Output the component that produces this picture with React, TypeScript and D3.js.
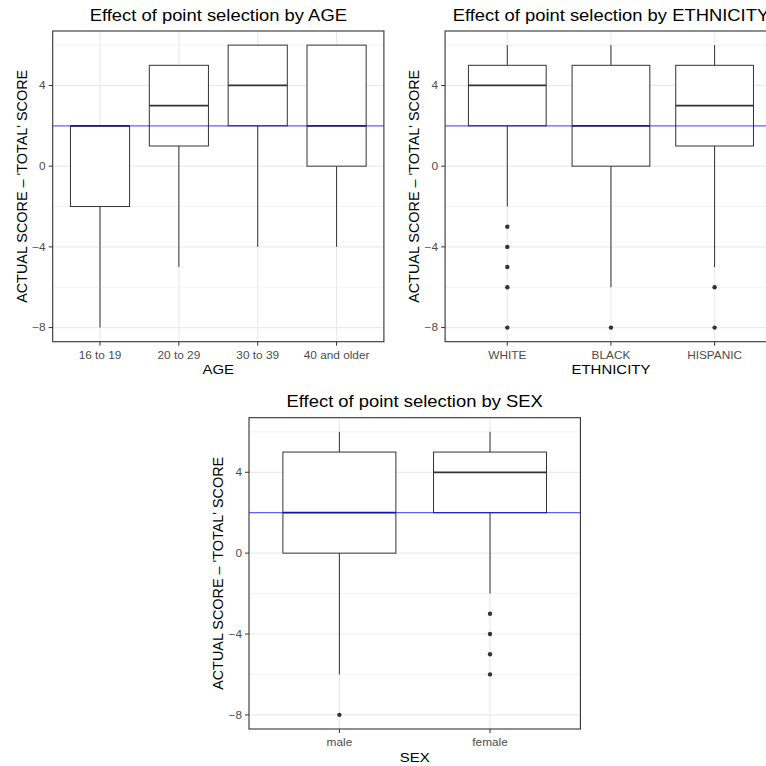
import React from "react";
import * as d3 from "d3";

// ---------- data ----------
const ageCats = ["16 to 19", "20 to 29", "30 to 39", "40 and older"];
const ageLower = [-8, -5, -4, -4];
const ageQ1 = [-2, 1, 2, 0];
const ageMedian = [2, 3, 4, 2];
const ageQ3 = [2, 5, 6, 6];
const ageUpper = [2, 5, 6, 6];
const ageOutliers: number[][] = [[], [], [], []];

const ethCats = ["WHITE", "BLACK", "HISPANIC"];
const ethLower = [-2, -6, -5];
const ethQ1 = [2, 0, 1];
const ethMedian = [4, 2, 3];
const ethQ3 = [5, 5, 5];
const ethUpper = [6, 6, 6];
const ethOutliers: number[][] = [[-3, -4, -5, -6, -8], [-8], [-6, -8]];

const sexCats = ["male", "female"];
const sexLower = [-6, -2];
const sexQ1 = [0, 2];
const sexMedian = [2, 4];
const sexQ3 = [5, 5];
const sexUpper = [6, 6];
const sexOutliers: number[][] = [[-8], [-3, -4, -5, -6]];

const yMajorTicks = [-8, -4, 0, 4];
const yMinorTicks = [-6, -2, 2, 6];
const yDataRange = [-8, 6];
const referenceLine = 2;

const titles = [
  "Effect of point selection by AGE",
  "Effect of point selection by ETHNICITY",
  "Effect of point selection by SEX",
];
const xTitles = ["AGE", "ETHNICITY", "SEX"];
const yTitle = "ACTUAL SCORE \u2013 'TOTAL' SCORE";

// ---------- style ----------
const FONT = "'Liberation Sans', Arial, Helvetica, sans-serif";
const SX = 1.15; // horizontal text stretch seen in the reference
const DARK = "#333333";
const GRID = "#ebebeb";

type PanelProps = {
  left: number; right: number; top: number; bottom: number;
  cats: string[]; lower: number[]; q1: number[]; median: number[]; q3: number[]; upper: number[];
  outliers: number[][]; title: string; xTitle: string; clipId: string;
};

function SText({ x, y, size, anchor = "middle", fill = "#000", rotate = false, children }: any) {
  const t = rotate
    ? `translate(${x},${y}) scale(1.05,1) rotate(-90)`
    : `translate(${x},${y}) scale(${SX},1)`;
  return (
    <text transform={t} fontSize={size} textAnchor={anchor} fill={fill} fontFamily={FONT}>
      {children}
    </text>
  );
}

function Panel(p: PanelProps) {
  const lo = yDataRange[0], hi = yDataRange[1];
  const pad = (hi - lo) * 0.05;
  const y = d3.scaleLinear().domain([lo - pad, hi + pad]).range([p.bottom, p.top]);
  const n = p.cats.length;
  const x = d3.scaleLinear().domain([0.4, n + 0.6]).range([p.left, p.right]);
  const bw = (x(1.375) - x(1)) * 2;
  const cx = (i: number) => x(i + 1);
  return (
    <g>
      <clipPath id={p.clipId}>
        <rect x={p.left} y={p.top} width={p.right - p.left} height={p.bottom - p.top} />
      </clipPath>
      <rect x={p.left} y={p.top} width={p.right - p.left} height={p.bottom - p.top} fill="#fff" />
      <g clipPath={`url(#${p.clipId})`}>
        {yMinorTicks.map((t) => (
          <line key={"mn" + t} x1={p.left} x2={p.right} y1={y(t)} y2={y(t)} stroke={GRID} strokeWidth={0.6} />
        ))}
        {yMajorTicks.map((t) => (
          <line key={"mj" + t} x1={p.left} x2={p.right} y1={y(t)} y2={y(t)} stroke={GRID} strokeWidth={1.2} />
        ))}
        {p.cats.map((c, i) => (
          <line key={"vg" + c} x1={cx(i)} x2={cx(i)} y1={p.top} y2={p.bottom} stroke={GRID} strokeWidth={1.2} />
        ))}
        {p.cats.map((c, i) => (
          <g key={"bx" + c}>
            <line x1={cx(i)} x2={cx(i)} y1={y(p.upper[i])} y2={y(p.q3[i])} stroke={DARK} strokeWidth={1} />
            <line x1={cx(i)} x2={cx(i)} y1={y(p.q1[i])} y2={y(p.lower[i])} stroke={DARK} strokeWidth={1} />
            <rect x={cx(i) - bw / 2} y={y(p.q3[i])} width={bw} height={y(p.q1[i]) - y(p.q3[i])}
              fill="#fff" stroke={DARK} strokeWidth={1} />
            <line x1={cx(i) - bw / 2} x2={cx(i) + bw / 2} y1={y(p.median[i])} y2={y(p.median[i])}
              stroke={DARK} strokeWidth={1.8} />
            {p.outliers[i].map((o, k) => (
              <circle key={k} cx={cx(i)} cy={y(o)} r={2.2} fill={DARK} />
            ))}
          </g>
        ))}
        <line x1={p.left} x2={p.right} y1={y(referenceLine)} y2={y(referenceLine)}
          stroke="blue" strokeOpacity={0.6} strokeWidth={1.3} />
      </g>
      <rect x={p.left} y={p.top} width={p.right - p.left} height={p.bottom - p.top}
        fill="none" stroke={DARK} strokeWidth={1.1} />
      {yMajorTicks.map((t) => (
        <g key={"yt" + t}>
          <line x1={p.left - 4} x2={p.left} y1={y(t)} y2={y(t)} stroke={DARK} strokeWidth={1} />
          <SText x={p.left - 7} y={y(t) + 3.7} size={10.3} anchor="end" fill="#4d4d4d">
            {t < 0 ? "\u2212" + Math.abs(t) : String(t)}
          </SText>
        </g>
      ))}
      {p.cats.map((c, i) => (
        <g key={"xt" + c}>
          <line x1={cx(i)} x2={cx(i)} y1={p.bottom} y2={p.bottom + 4} stroke={DARK} strokeWidth={1} />
          <SText x={cx(i)} y={p.bottom + 17.3} size={10.3} fill="#4d4d4d">{c}</SText>
        </g>
      ))}
      <SText x={(p.left + p.right) / 2} y={p.bottom + 32.7} size={13}>{p.xTitle}</SText>
      <SText x={p.left - 26} y={(p.top + p.bottom) / 2} size={14.4} rotate>{yTitle}</SText>
      <SText x={(p.left + p.right) / 2} y={p.top - 10.3} size={16}>{p.title}</SText>
    </g>
  );
}

export default function App() {
  return (
    <svg width={766} height={766} style={{ position: "absolute", left: 0, top: 0, background: "#fff" }}>
      <rect width={766} height={766} fill="#fff" />
      <Panel left={52.7} right={383.9} top={31} bottom={341.7}
        cats={ageCats} lower={ageLower} q1={ageQ1} median={ageMedian} q3={ageQ3} upper={ageUpper}
        outliers={ageOutliers} title={titles[0]} xTitle={xTitles[0]} clipId="c1" />
      <Panel left={445.1} right={776.8} top={31} bottom={341.7}
        cats={ethCats} lower={ethLower} q1={ethQ1} median={ethMedian} q3={ethQ3} upper={ethUpper}
        outliers={ethOutliers} title={titles[1]} xTitle={xTitles[1]} clipId="c2" />
      <Panel left={249} right={580.4} top={417.7} bottom={729}
        cats={sexCats} lower={sexLower} q1={sexQ1} median={sexMedian} q3={sexQ3} upper={sexUpper}
        outliers={sexOutliers} title={titles[2]} xTitle={xTitles[2]} clipId="c3" />
    </svg>
  );
}
